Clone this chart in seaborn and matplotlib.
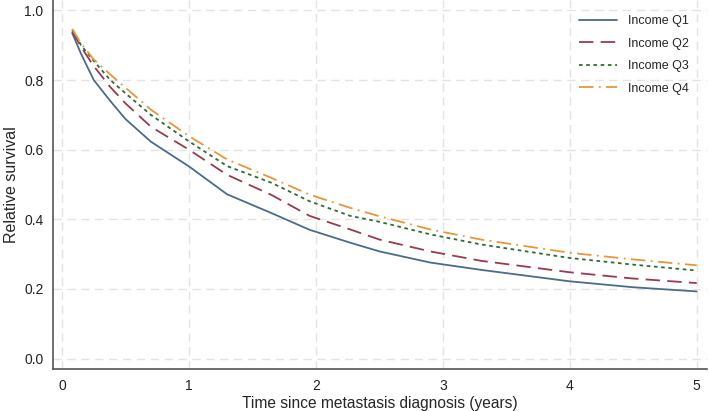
import pandas as pd
import matplotlib
matplotlib.use("Agg")
import matplotlib.pyplot as plt
import seaborn as sns

# values
years = [0.08, 0.15, 0.25, 0.38, 0.5, 0.7, 1.0, 1.3, 1.65, 1.95, 2.27, 2.5, 2.9, 3.3, 4.0, 4.5, 5.0]
q1 = [0.935, 0.875, 0.80, 0.74, 0.688, 0.623, 0.552, 0.472, 0.418, 0.37, 0.333, 0.308, 0.276, 0.255, 0.222, 0.205, 0.193]
q2 = [0.94, 0.895, 0.84, 0.78, 0.733, 0.666, 0.60, 0.528, 0.47, 0.41, 0.371, 0.342, 0.308, 0.281, 0.248, 0.23, 0.217]
q3 = [0.945, 0.90, 0.855, 0.80, 0.762, 0.70, 0.624, 0.553, 0.505, 0.452, 0.41, 0.393, 0.357, 0.328, 0.289, 0.27, 0.253]
q4 = [0.947, 0.905, 0.859, 0.816, 0.778, 0.715, 0.639, 0.572, 0.519, 0.471, 0.433, 0.409, 0.371, 0.342, 0.304, 0.285, 0.268]
groups = ["Income Q1", "Income Q2", "Income Q3", "Income Q4"]

colors = ["#4a6c8b", "#9a3a4c", "#2f6e33", "#e8953c"]
dashes = ["", (8, 4), (2, 2), (8, 3, 1, 3)]

df = pd.concat([
    pd.DataFrame({"year": years, "surv": v, "group": g})
    for g, v in zip(groups, [q1, q2, q3, q4])
])

sns.set_style("white")
plt.rcParams["font.family"] = ["Liberation Sans", "DejaVu Sans"]

fig, ax = plt.subplots(figsize=(7.09, 4.11), dpi=100)
sns.lineplot(data=df, x="year", y="surv", hue="group", style="group",
             palette=colors, dashes=dashes, linewidth=1.3, ax=ax)

ax.set_xlim(-0.07, 5.08)
ax.set_ylim(-0.03, 1.03)
ax.set_xticks([0, 1, 2, 3, 4, 5])
ax.set_yticks([0.0, 0.2, 0.4, 0.6, 0.8, 1.0])
ax.set_yticklabels(["0.0", "0.2", "0.4", "0.6", "0.8", "1.0"])
ax.grid(True, color="#e3e3e3", linestyle=(0, (6, 4)), linewidth=1.0)
ax.set_axisbelow(True)

sns.despine(ax=ax)
for s in ["left", "bottom"]:
    ax.spines[s].set_color("#555555")
    ax.spines[s].set_linewidth(1.2)
ax.tick_params(axis="both", direction="out", length=4, width=1, color="#555555",
               labelsize=10, labelcolor="#222222", pad=3)

ax.set_xlabel("Time since metastasis diagnosis (years)", fontsize=11.2, labelpad=2)
ax.set_ylabel("Relative survival", fontsize=11.5, labelpad=4)

leg = ax.legend(loc="upper right", frameon=False, fontsize=9, handlelength=3.0,
                handletextpad=0.9, labelspacing=0.85, bbox_to_anchor=(0.99, 0.99))

fig.subplots_adjust(left=0.075, right=0.997, top=1.0, bottom=0.102)
fig.savefig("out.png", dpi=100)
